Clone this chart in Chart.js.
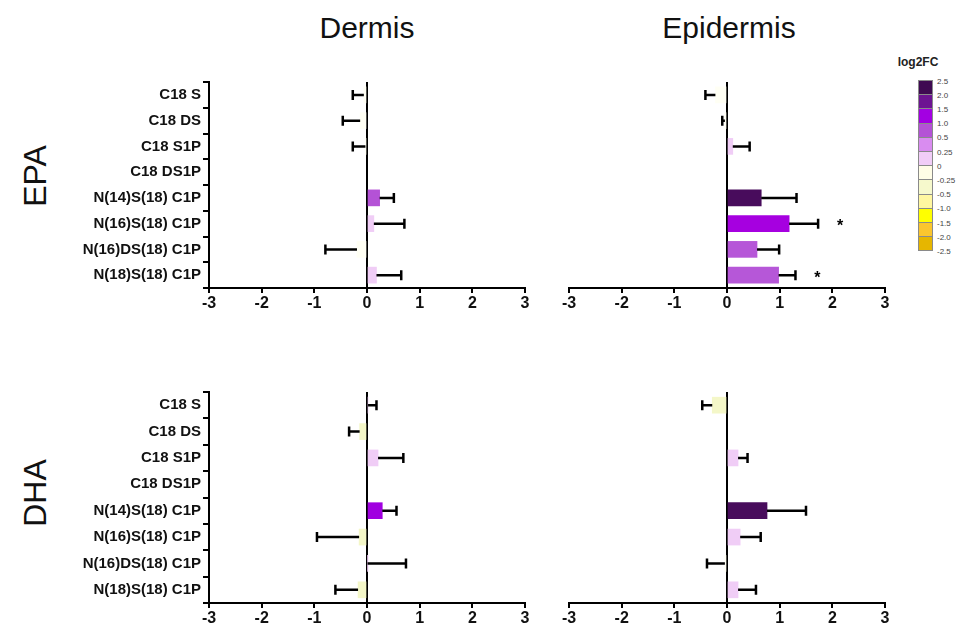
<!DOCTYPE html>
<html>
<head>
<meta charset="utf-8">
<script src="https://cdn.jsdelivr.net/npm/chart.js@4.4.1/dist/chart.umd.min.js"></script>
<style>
  body{margin:0;background:#fff;font-family:"Liberation Sans",Arial,sans-serif;}
  #page{position:relative;width:957px;height:628px;overflow:hidden;}
  .cv{position:absolute;}
  .title{position:absolute;font-size:30px;color:#111;transform:translate(-50%,-50%);white-space:nowrap;}
  .side{position:absolute;font-size:32px;color:#111;transform:translate(-50%,-50%) rotate(-90deg);white-space:nowrap;}
  #legTitle{position:absolute;left:918px;top:62px;transform:translate(-50%,-50%);font-weight:bold;font-size:12px;color:#222;}
  .legBox{position:absolute;left:918px;width:15px;border:1px solid #8a8a8a;box-sizing:border-box;}
  .legLab{position:absolute;left:937px;font-size:8px;color:#444;transform:translateY(-50%);}
</style>
</head>
<body>
<div id="page">
  <div class="title" style="left:367px;top:28px">Dermis</div>
  <div class="title" style="left:729px;top:28px">Epidermis</div>
  <div class="side" style="left:35px;top:176px">EPA</div>
  <div class="side" style="left:35px;top:493px">DHA</div>
  <div id="legTitle">log2FC</div>
  <div id="legend"></div>
  <canvas id="c1" class="cv"></canvas>
  <canvas id="c2" class="cv"></canvas>
  <canvas id="c3" class="cv"></canvas>
  <canvas id="c4" class="cv"></canvas>
</div>
<script>
// categories (same for every panel)
var categories=['C18 S','C18 DS','C18 S1P','C18 DS1P','N(14)S(18) C1P','N(16)S(18) C1P','N(16)DS(18) C1P','N(18)S(18) C1P'];
var xTicks=[-3,-2,-1,0,1,2,3];

// mean log2FC and one-sided error (null = not detected)
var epaDermisMean=[-0.06,-0.13,-0.03,null,0.24,0.13,-0.19,0.18];
var epaDermisErr =[0.21,0.33,0.24,null,0.27,0.58,0.60,0.47];
var epaEpidermisMean=[-0.22,-0.04,0.11,null,0.65,1.18,0.57,0.98];
var epaEpidermisErr =[0.19,0.05,0.32,null,0.67,0.55,0.42,0.32];
var epaEpidermisSig =['','','','','','*','','*'];
var dhaDermisMean=[0.02,-0.14,0.21,null,0.29,-0.15,0.01,-0.17];
var dhaDermisErr =[0.16,0.20,0.48,null,0.27,0.80,0.73,0.43];
var dhaEpidermisMean=[-0.28,null,0.21,null,0.76,0.25,-0.04,0.21];
var dhaEpidermisErr =[0.19,null,0.18,null,0.74,0.39,0.34,0.34];
var noSig=['','','','','','','',''];

// bar fill (log2FC colour class)
var epaDermisFill=['#fffff4','#fffff4','#fffff4',null,'#b452d6','#f0cdf6','#fffff4','#f0cdf6'];
var epaEpidermisFill=['#fffff4','#fffff4','#f0cdf6',null,'#480c5c','#a600e0','#b657d8','#b657d8'];
var dhaDermisFill=['#f0cdf6','#f4f7c8','#f0cdf6',null,'#a000e0','#f4f7c8','#f0cdf6','#f4f7c8'];
var dhaEpidermisFill=['#f4f7c8',null,'#f0cdf6',null,'#480c5c','#f0cdf6','#fffff4','#f0cdf6'];

// colour scale legend
var legendColors=['#3f0a52','#6d1492','#a300e2','#b452d6','#d98cf0','#f1cdf7','#fffde6','#f6f9cc','#fff7a0','#ffff00','#fbc62e','#e6b600'];
var legendTicks=['2.5','2.0','1.5','1.0','0.5','0.25','0','-0.25','-0.5','-1.0','-1.5','-2.0','-2.5'];

var leg=document.getElementById('legend');
var boxTop=80, boxH=14.2;
for(var i=0;i<legendColors.length;i++){
  var b=document.createElement('div');
  b.className='legBox';
  b.style.top=(boxTop+i*boxH)+'px';
  b.style.height=(boxH+1)+'px';
  b.style.background=legendColors[i];
  leg.appendChild(b);
}
for(var i=0;i<legendTicks.length;i++){
  var l=document.createElement('div');
  l.className='legLab';
  l.style.top=(boxTop+i*boxH+0.5)+'px';
  l.textContent=legendTicks[i];
  leg.appendChild(l);
}

// error bars + significance stars drawn from the scales
var errorBars={
  id:'errorBars',
  afterDatasetsDraw:function(chart){
    var ds=chart.data.datasets[0];
    var meta=chart.getDatasetMeta(0);
    var xs=chart.scales.x;
    var c=chart.ctx;
    c.save();
    c.strokeStyle='#000';
    c.fillStyle='#000';
    c.lineWidth=2.5;
    for(var i=0;i<ds.data.length;i++){
      var m=ds.data[i];
      if(m===null) continue;
      var e=ds.err[i];
      var s=m>=0?1:-1;
      var y=meta.data[i].y;
      var x0=xs.getPixelForValue(m);
      var x1=xs.getPixelForValue(m+s*e);
      c.beginPath();
      c.moveTo(x0,y);c.lineTo(x1,y);
      c.moveTo(x1,y-5);c.lineTo(x1,y+5);
      c.stroke();
      if(ds.sig[i]){
        c.font='bold 16px "Liberation Sans", Arial';
        c.textAlign='center';
        c.textBaseline='middle';
        c.fillText(ds.sig[i],x1+22*s,y+3);
      }
    }
    c.restore();
  }
};

function makePanel(id,left,top,w,h,mean,err,fill,sig,showLabels){
  var cv=document.getElementById(id);
  cv.style.left=left+'px';
  cv.style.top=top+'px';
  cv.width=w; cv.height=h;
  new Chart(cv,{
    type:'bar',
    data:{
      labels:categories,
      datasets:[{
        data:mean,
        err:err,
        sig:sig,
        backgroundColor:fill,
        borderWidth:0,
        barThickness:16
      }]
    },
    options:{
      indexAxis:'y',
      responsive:false,
      animation:false,
      devicePixelRatio:1,
      layout:{padding:showLabels?{left:0,right:15,top:20,bottom:0}:{left:29,right:55,top:20,bottom:0}},
      plugins:{legend:{display:false},tooltip:{enabled:false}},
      scales:{
        x:{
          min:-3,max:3,
          afterBuildTicks:function(ax){ax.ticks=xTicks.map(function(v){return {value:v};});},
          afterFit:function(ax){ax.height=25;},
          border:{color:'#000',width:2},
          grid:{
            color:function(ctx){return ctx.tick && ctx.tick.value===0?'#000':'rgba(0,0,0,0)';},
            lineWidth:2,
            tickColor:'#000',
            tickLength:5,
            drawTicks:true
          },
          ticks:{color:'#111',padding:1,maxRotation:0,font:{family:'"Liberation Sans", Arial',size:16,weight:'bold'}}
        },
        y:{
          display:showLabels,
          afterFit:function(ax){ax.width=showLabels?209:0;},
          border:{color:'#000',width:2},
          grid:{drawOnChartArea:false,tickColor:'#000',tickLength:6,lineWidth:2},
          ticks:{color:'#111',padding:2,font:{family:'"Liberation Sans", Arial',size:15,weight:'bold'}}
        }
      }
    },
    plugins:[errorBars]
  });
}

makePanel('c1',0,62,540,251,epaDermisMean,epaDermisErr,epaDermisFill,noSig,true);
makePanel('c2',540,62,400,251,epaEpidermisMean,epaEpidermisErr,epaEpidermisFill,epaEpidermisSig,false);
makePanel('c3',0,372,540,256,dhaDermisMean,dhaDermisErr,dhaDermisFill,noSig,true);
makePanel('c4',540,372,400,256,dhaEpidermisMean,dhaEpidermisErr,dhaEpidermisFill,noSig,false);
</script>
</body>
</html>
